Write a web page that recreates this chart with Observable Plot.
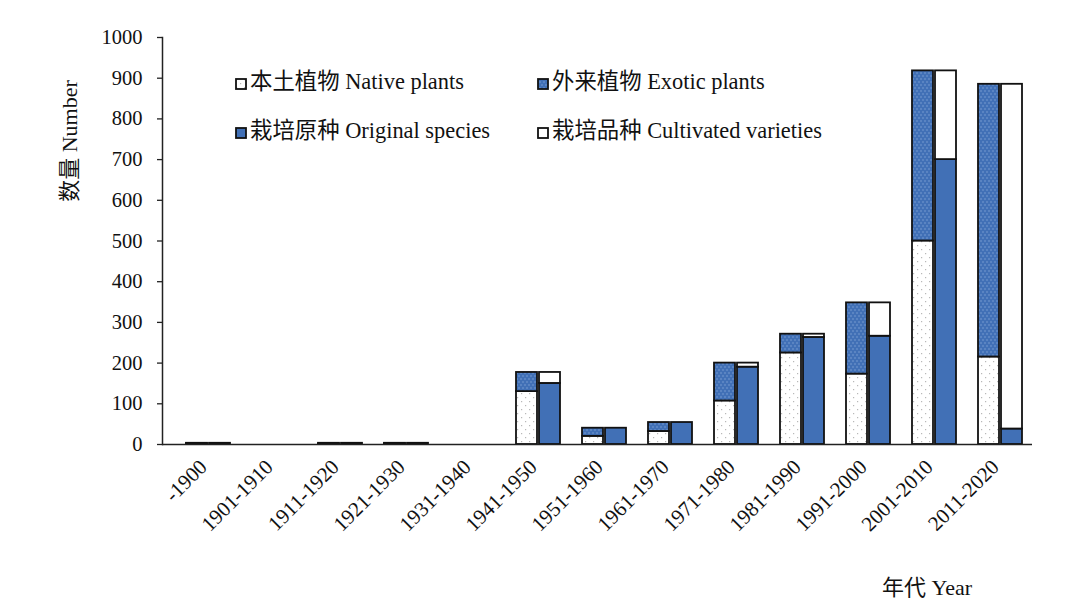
<!DOCTYPE html>
<html>
<head>
<meta charset="utf-8">
<script src="https://cdn.jsdelivr.net/npm/d3@7"></script>
<script src="https://cdn.jsdelivr.net/npm/@observablehq/plot@0.6"></script>
<style>
  html, body { margin: 0; padding: 0; background: #fff; }
  #wrap { position: relative; width: 1080px; height: 605px; font-family: "Liberation Serif", "Noto Sans CJK SC", serif; color: #111; }
  .lg { position: absolute; font-size: 22.4px; white-space: nowrap; line-height: 1; }
  .lg svg { vertical-align: -1px; margin-right: 3px; }
  .title { position: absolute; font-size: 22px; white-space: nowrap; line-height: 1; }
</style>
</head>
<body>
<svg width="0" height="0" style="position:absolute">
  <defs>
    <pattern id="pNative" width="8" height="8" patternUnits="userSpaceOnUse">
      <rect width="8" height="8" fill="#ffffff"/>
      <rect x="1" y="1" width="1.2" height="1.2" fill="#b8b8b8"/>
      <rect x="5" y="5" width="1.2" height="1.2" fill="#b8b8b8"/>
    </pattern>
    <pattern id="pExotic" width="4" height="6" patternUnits="userSpaceOnUse">
      <rect width="4" height="6" fill="#4170b6"/>
      <rect x="0.5" y="0.5" width="1" height="1" fill="#a6c0e8"/>
      <rect x="2.5" y="3.5" width="1" height="1" fill="#a6c0e8"/>
    </pattern>
  </defs>
</svg>
<div id="wrap"></div>
<script>
const decades = ["-1900","1901-1910","1911-1920","1921-1930","1931-1940","1941-1950","1951-1960","1961-1970","1971-1980","1981-1990","1991-2000","2001-2010","2011-2020"];
const nativePlants = [2, 0, 1, 2, 0, 130, 20, 32, 107, 225, 173, 500, 215];
const exoticPlants = [1, 0, 2, 1, 0, 47, 20, 22, 93, 46, 175, 418, 670];
const originalSpecies = [3, 0, 3, 3, 0, 150, 40, 54, 190, 263, 266, 700, 38];
const cultivatedVarieties = [0, 0, 0, 0, 0, 27, 0, 0, 10, 8, 82, 218, 847];
const yTicks = [0, 100, 200, 300, 400, 500, 600, 700, 800, 900, 1000];

const seriesNames = {
  native: "本土植物 Native plants",
  exotic: "外来植物 Exotic plants",
  original: "栽培原种 Original species",
  cultivated: "栽培品种 Cultivated varieties"
};
const fills = {
  native: "url(#pNative)",
  exotic: "url(#pExotic)",
  original: "#4170b6",
  cultivated: "#ffffff"
};

const leftData = decades.flatMap((d, i) => [
  {decade: d, key: "native", value: nativePlants[i]},
  {decade: d, key: "exotic", value: exoticPlants[i]}
]);
const rightData = decades.flatMap((d, i) => [
  {decade: d, key: "original", value: originalSpecies[i]},
  {decade: d, key: "cultivated", value: cultivatedVarieties[i]}
]);

const font = "Liberation Serif, Noto Sans CJK SC, serif";

const chart = Plot.plot({
  width: 1080,
  height: 605,
  marginLeft: 162,
  marginRight: 48,
  marginTop: 37,
  marginBottom: 161,
  style: {fontFamily: font, fontSize: "20px", color: "#111", background: "transparent"},
  x: {domain: decades, paddingInner: 0.335, paddingOuter: 0.242, align: 0.69},
  y: {domain: [0, 1000]},
  color: {type: "identity"},
  marks: [
    Plot.axisY({ticks: yTicks, tickFormat: d3.format("d"), tickSize: 5, tickPadding: 15, label: null, fontSize: 20.5, stroke: "#222", strokeWidth: 1.3}),
    Plot.axisX({tickSize: 0, tickRotate: -45, tickPadding: 19, dx: -5, label: null, fontSize: 21}),
    Plot.barY(leftData, {x: "decade", y: "value", fill: d => fills[d.key], stroke: "#111", strokeWidth: 1.8, insetRight: 23, order: null}),
    Plot.barY(rightData, {x: "decade", y: "value", fill: d => fills[d.key], stroke: "#111", strokeWidth: 1.8, insetLeft: 23, order: null}),
    Plot.frame({anchor: "left", stroke: "#222", strokeWidth: 1.5}),
    Plot.ruleY([0], {stroke: "#222", strokeWidth: 1.5})
  ]
});

const wrap = document.getElementById("wrap");
wrap.appendChild(chart);

function swatch(fill) {
  return `<svg width="12" height="12"><rect x="1" y="1" width="10" height="10" fill="${fill}" stroke="#111" stroke-width="1.8"/></svg>`;
}
const legendItems = [
  {key: "native", left: 235, top: 71},
  {key: "exotic", left: 537, top: 71},
  {key: "original", left: 235, top: 120},
  {key: "cultivated", left: 537, top: 120}
];
for (const it of legendItems) {
  const div = document.createElement("div");
  div.className = "lg";
  div.style.left = it.left + "px";
  div.style.top = it.top + "px";
  div.innerHTML = swatch(fills[it.key]) + seriesNames[it.key];
  wrap.appendChild(div);
}

const yTitle = document.createElement("div");
yTitle.className = "title";
yTitle.textContent = "数量 Number";
yTitle.style.left = "70px";
yTitle.style.top = "141px";
yTitle.style.transform = "translate(-50%, -50%) rotate(-90deg)";
wrap.appendChild(yTitle);

const xTitle = document.createElement("div");
xTitle.className = "title";
xTitle.textContent = "年代 Year";
xTitle.style.left = "882px";
xTitle.style.top = "577px";
wrap.appendChild(xTitle);
</script>
</body>
</html>
